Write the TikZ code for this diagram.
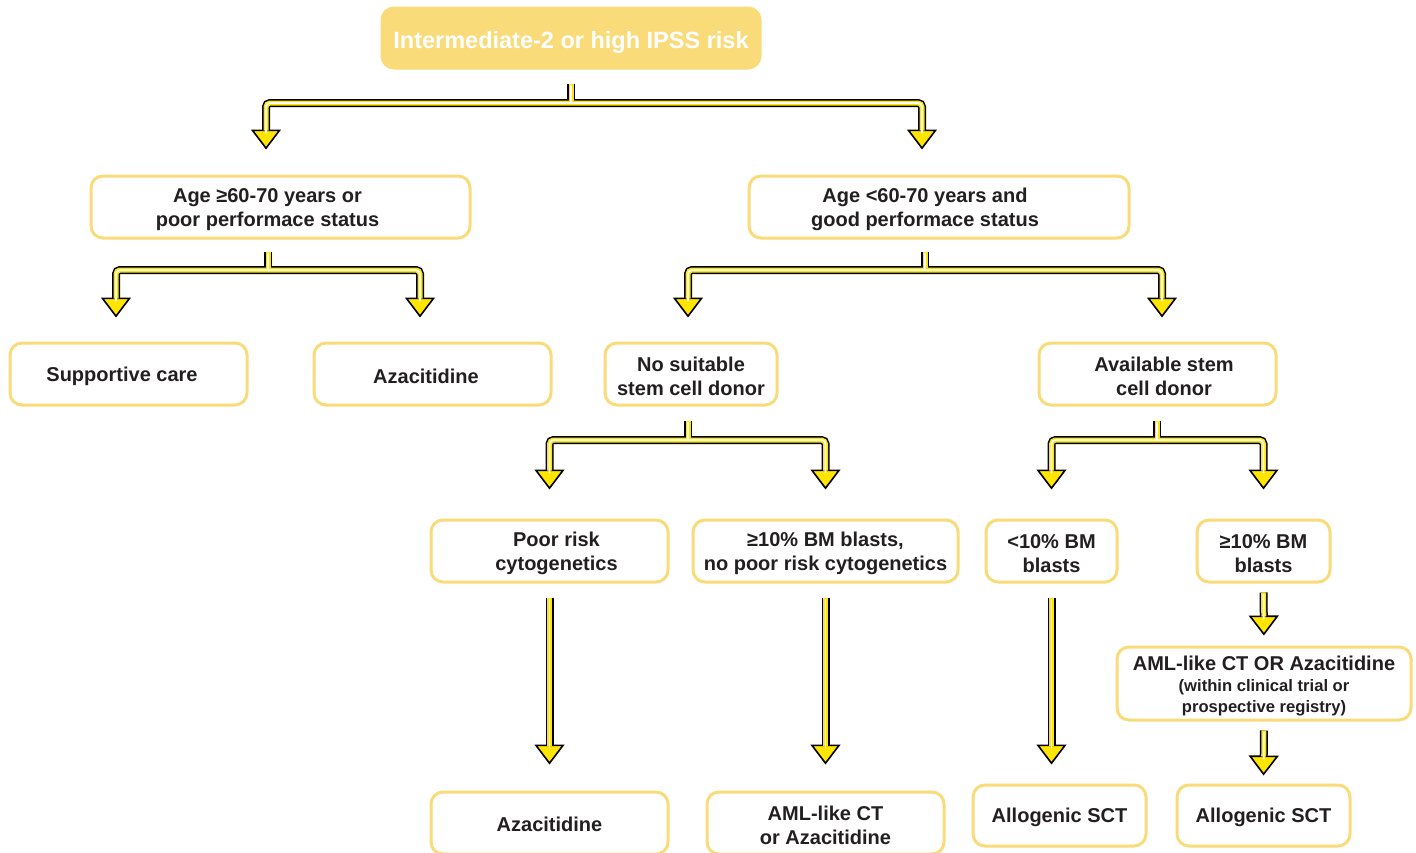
\documentclass[tikz,border=0pt]{standalone}
\usepackage{fontspec}
\setmainfont{Liberation Sans}
\usetikzlibrary{arrows.meta}
\definecolor{boxgold}{HTML}{FADB7A}
\definecolor{txtdark}{HTML}{231F20}
\definecolor{arrowyel}{HTML}{FFE500}
\pgfdeclarelayer{cblack}
\pgfdeclarelayer{cyel}
\pgfdeclarelayer{cwhite}
\pgfsetlayers{main,cblack,cyel,cwhite}
\tikzset{
  box/.style={draw=boxgold, line width=3pt, rounded corners=12pt, fill=white, inner sep=0pt},
  topbox/.style={box, fill=boxgold},
  boxtext/.style={text=txtdark, font=\bfseries\fontsize{20}{24}\selectfont, align=center, inner sep=0pt},
  toptext/.style={boxtext, text=white, font=\bfseries\fontsize{23.5}{28}\selectfont},
  headtip/.tip={Triangle[length=20pt,width=30pt,fill=arrowyel,line width=1.6pt]},
  cb/.style={draw=black, line width=8pt, rounded corners=4pt},
  cy/.style={draw=arrowyel, line width=5pt, rounded corners=4pt},
  cw/.style={draw=white, line width=1.8pt, rounded corners=4pt, line cap=round},
}
% stem without arrow head: #1 start gap, #2 path
\newcommand\flowstem[2]{%
  \begin{pgfonlayer}{cblack}\draw[cb, shorten <=#1] #2;\end{pgfonlayer}%
  \begin{pgfonlayer}{cyel}\draw[cy, shorten <=#1] #2;\end{pgfonlayer}%
  \begin{pgfonlayer}{cwhite}\draw[cw, shorten <={#1+2pt}] #2;\end{pgfonlayer}}
% arrow with head at end: #1 start gap, #2 end gap, #3 path
\newcommand\flowarrow[3]{%
  \begin{pgfonlayer}{cblack}\draw[cb, shorten <=#1, shorten >=#2, -{headtip}] #3;\end{pgfonlayer}%
  \begin{pgfonlayer}{cyel}\draw[cy, shorten <=#1, shorten >={#2+19pt}] #3;\end{pgfonlayer}%
  \begin{pgfonlayer}{cwhite}\draw[cw, shorten <={#1+2pt}, shorten >={#2+17pt}] #3;\end{pgfonlayer}}
% fork with heads at both ends: #1 end gap, #2 path
\newcommand\flowfork[2]{%
  \begin{pgfonlayer}{cblack}\draw[cb, shorten <=#1, shorten >=#1, {headtip}-{headtip}] #2;\end{pgfonlayer}%
  \begin{pgfonlayer}{cyel}\draw[cy, shorten <={#1+19pt}, shorten >={#1+19pt}] #2;\end{pgfonlayer}%
  \begin{pgfonlayer}{cwhite}\draw[cw, shorten <={#1+17pt}, shorten >={#1+17pt}] #2;\end{pgfonlayer}}
\begin{document}
\begin{tikzpicture}[x=1pt,y=-1pt]
\useasboundingbox (0,0) rectangle (1416,852);
\clip (0,0) rectangle (1416,852);
\fill[white] (0,0) rectangle (1416,852);

% boxes
\node[topbox, minimum width=378pt, minimum height=60pt] (top) at (571,38) {};
\node[box, minimum width=379pt, minimum height=62pt] (agehi) at (280.5,207) {};
\node[box, minimum width=380pt, minimum height=62pt] (agelo) at (939,207) {};
\node[box, minimum width=237pt, minimum height=62pt] (supp) at (128.5,374) {};
\node[box, minimum width=237pt, minimum height=62pt] (aza1) at (432.5,374) {};
\node[box, minimum width=172pt, minimum height=62pt] (nodonor) at (691,374) {};
\node[box, minimum width=237pt, minimum height=62pt] (donor) at (1157.5,374) {};
\node[box, minimum width=237pt, minimum height=62pt] (poorrisk) at (549.5,551) {};
\node[box, minimum width=265pt, minimum height=62pt] (bmhia) at (825.5,551) {};
\node[box, minimum width=131pt, minimum height=62pt] (bmlo) at (1051.5,551) {};
\node[box, minimum width=133pt, minimum height=62pt] (bmhib) at (1263.5,551) {};
\node[box, minimum width=294pt, minimum height=73pt] (amlreg) at (1264,683.5) {};
\node[box, minimum width=237pt, minimum height=62pt] (aza2) at (549.5,823) {};
\node[box, minimum width=237pt, minimum height=62pt] (amlct) at (825.5,823) {};
\node[box, minimum width=173pt, minimum height=61pt] (allo1) at (1059.5,815.5) {};
\node[box, minimum width=173pt, minimum height=61pt] (allo2) at (1263.5,815.5) {};

% texts
\node[toptext] (top-t) at ([shift={(0,4.5)}]top.center) {Intermediate-2 or high IPSS risk};
\node[boxtext] (agehi-t) at ([shift={(-13,2.5)}]agehi.center) {Age ≥60-70 years or\\poor performace status};
\node[boxtext] (agelo-t) at ([shift={(-14,2.5)}]agelo.center) {Age <60-70 years and\\good performace status};
\node[boxtext] (supp-t) at ([shift={(-6.5,2.5)}]supp.center) {Supportive care};
\node[boxtext] (aza1-t) at ([shift={(-6.5,2.5)}]aza1.center) {Azacitidine};
\node[boxtext] (nodonor-t) at ([shift={(0,2.5)}]nodonor.center) {No suitable\\stem cell donor};
\node[boxtext] (donor-t) at ([shift={(6.5,2.5)}]donor.center) {Available stem\\cell donor};
\node[boxtext] (poorrisk-t) at ([shift={(7,2.5)}]poorrisk.center) {Poor risk\\cytogenetics};
\node[boxtext] (bmhia-t) at ([shift={(0,2.5)}]bmhia.center) {≥10\% BM blasts,\\no poor risk cytogenetics};
\node[boxtext] (bmlo-t) at ([shift={(0,2.5)}]bmlo.center) {<10\% BM\\blasts};
\node[boxtext] (bmhib-t) at ([shift={(0,2.5)}]bmhib.center) {≥10\% BM\\blasts};
\node[boxtext] (amlreg-t) at ([shift={(0,2.5)}]amlreg.center) {AML-like CT OR Azacitidine\\[-3pt]{\fontsize{16.6}{21}\selectfont (within clinical trial or}\\[-3pt]{\fontsize{16.6}{21}\selectfont prospective registry)}};
\node[boxtext] (aza2-t) at ([shift={(0,1.5)}]aza2.center) {Azacitidine};
\node[boxtext] (amlct-t) at ([shift={(0,2.5)}]amlct.center) {AML-like CT\\or Azacitidine};
\node[boxtext] (allo1-t) at ([shift={(0,2)}]allo1.center) {Allogenic SCT};
\node[boxtext] (allo2-t) at ([shift={(0,2)}]allo2.center) {Allogenic SCT};

% junctions
\coordinate (j1) at (571,103);
\coordinate (j2) at (268,270);
\coordinate (j3) at (925,270);
\coordinate (j4) at (688,440);
\coordinate (j5) at (1157,440);

\flowstem{14pt}{(top.south) -- (j1)}
\flowfork{25pt}{([xshift=-14.5pt]agehi.north) |- (j1) -| ([xshift=-17pt]agelo.north)}

\flowstem{12pt}{(j2 |- agehi.south) -- (j2)}
\flowfork{24pt}{([xshift=-12.5pt]supp.north) |- (j2) -| ([xshift=-12.5pt]aza1.north)}

\flowstem{12pt}{(j3 |- agelo.south) -- (j3)}
\flowfork{24pt}{([xshift=-3pt]nodonor.north) |- (j3) -| ([xshift=4.5pt]donor.north)}

\flowstem{14pt}{(j4 |- nodonor.south) -- (j4)}
\flowfork{29pt}{(poorrisk.north) |- (j4) -| (bmhia.north)}

\flowstem{14pt}{(j5 |- donor.south) -- (j5)}
\flowfork{29pt}{(bmlo.north) |- (j5) -| (bmhib.north)}

\flowarrow{14pt}{26pt}{(poorrisk.south) -- (aza2.north)}
\flowarrow{14pt}{26pt}{(bmhia.south) -- (amlct.north)}
\flowarrow{14pt}{19pt}{(bmlo.south) -- (bmlo.south |- allo1.north)}
\flowarrow{9pt}{10pt}{(bmhib.south) -- (amlreg.north)}
\flowarrow{9pt}{8pt}{(amlreg.south) -- (allo2.north)}
\end{tikzpicture}
\end{document}
